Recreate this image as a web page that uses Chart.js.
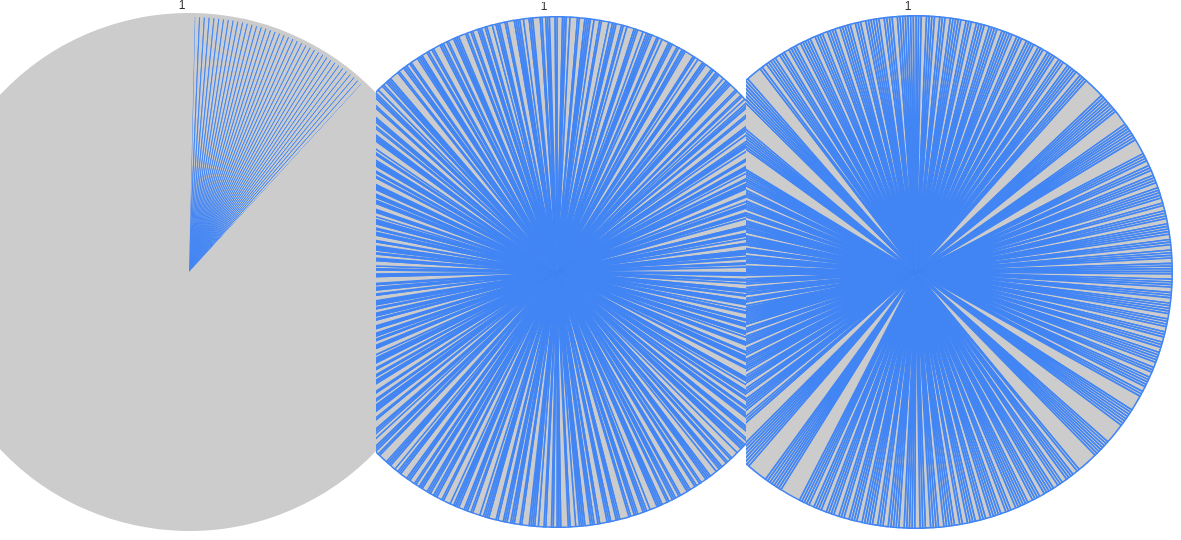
<!DOCTYPE html>
<html><head><meta charset="utf-8">
<script src="https://cdn.jsdelivr.net/npm/chart.js@4/dist/chart.umd.min.js"></script>
<style>
html,body{margin:0;padding:0;background:#fff;width:1181px;height:540px;overflow:hidden}
.panel{position:absolute;top:0;height:540px;overflow:hidden}
.panel canvas{position:absolute}
</style></head><body>
<div class="panel" style="left:0px;width:376px"><canvas id="c1"></canvas></div>
<div class="panel" style="left:376px;width:370px"><canvas id="c2"></canvas></div>
<div class="panel" style="left:746px;width:435px"><canvas id="c3"></canvas></div>
<script>
// ---- data ----
const chartTitles = ['1', '1', '1'];

const pie1Values = [
  1,1,1,1,1,1,1,1,1,1,1,1,1,1,1,1,1,1,1,1,
  1,1,1,1,1,1,1,1,1,1,1,1,1,1,1,1,1,1,
  294
];

const pie2Values = [
  3,1,1,2,4,1,3,1,1,1,2,3,1,4,2,1,1,3,1,2,
  4,1,1,3,2,1,1,1,3,1,2,4,1,1,3,1,2,1,1,5,
  1,2,3,1,1,4,1,2,1,1,3,2,1,1,1,4,1,3,1,2,
  2,1,1,3,1,4,1,1,2,3,1,1,1,2,4,1,3,1,1,2,
  3,1,2,1,1,1,4,1,3,2,1,1,3,1,1,2,5,1,1,3,
  1,1,2,3,1,4,1,1,1,2,1,3,1,2,4,1,1,3,1,2,
  4,1,1,2,1,3,1,1,1,3,2,1,4,1,2,1,1,3,1,1,
  2,3,1,1,4,1,2,1,1,1,3,1,5,1,1,2,3,1,1,2,
  1,3,1,2,1,1,4,1,1,3,1,2,1,1,1,3,4,1,2,1,
  3,1,1,2,4,1,1,1,3,1,2,1,3,1,1,4,1,2,1,1,
  2,1,3,1,1,1,4,2,1,1,3,1,1,2,1,5,1,1,3,1,
  1,4,1,2,1,1,3,1,1,1,2,3,1,4,1,1,2,1,3,1,
  3,2,1,1,1,4,1,3,1,1,2,1,1,3,1,4,1,1,1,2,
  4,1,2,1,1,3,1,1,1,2,4,1,3,1,1,2,1,1,3,1,
  1,2,1,3,1,1,4,1,1,2,3,1,1,1,5,1,2,1,1,3,
  2,1,1,4,1,3,1,1,1,2,1,3,1,4,1,1,2,1,3,1,
  3,1,1,1,2,4,1,1,3,1,2,1,1,3,1,1,4,1,2,1,
  1,3,1,2,1,1,1,4,1,3,1,1,2,1,5,1,1,3,1,2,
  4,1,1,3,1,2,1,1,1,3,1,4,1,1,2,1,3,1,1,1,
  2,3,1,1,4,1,1,2,1,1,3,1,1,1,4,1,2,1,3,1,
  1,1,3,1,2,4,1,1,1,3,1,2,1,1,4,1,3,1,1,2,
  3,1,2,1,1,1,5,1,3,1,1,2,1,4,1,1,1,3,1,2,
  1,4,1,1,2,1,3,1,1,1,4,1,2,1,3,1,1,2,1,3,
  2,1,1,3,1,4,1,1,1,2,3,1,1,4,1,2,1,1,3,1
];

const pie3Values = [
  1,1,2,1,1,1,2,1,1,2,1,1,1,1,2,1,1,2,1,1,
  1,2,1,1,1,2,1,1,1,1,2,1,1,2,1,1,1,2,1,1,
  2,1,1,1,2,1,1,2,1,1,1,1,2,1,1,1,
  8,1,1,1,1,1,1,1,1,6,1,1,1,1,1,1,1,6,
  1,1,1,2,1,1,2,1,1,1,2,1,1,1,1,2,1,2,1,1,
  1,2,1,1,1,1,2,1,1,2,1,1,1,2,1,1,1,1,2,1,
  1,1,2,1,1,2,1,1,1,1,2,1,1,1,2,1,1,2,1,1,
  2,1,1,1,1,2,1,1,2,1,1,1,1,2,1,1,
  6,1,1,1,1,1,1,1,8,1,1,1,1,1,1,1,8,
  1,2,1,1,1,2,1,1,2,1,1,1,1,2,1,1,1,2,1,1,
  1,1,1,2,1,1,2,1,1,1,1,2,1,1,2,1,1,1,2,1,
  2,1,1,1,1,2,1,1,1,2,1,1,2,1,1,1,1,2,1,1,
  1,1,2,1,1,2,1,1,1,1,2,1,1,1,2,1,1,2,1,1,
  1,2,1,1,1,2,1,1,1,1,
  8,1,1,1,1,1,1,1,8,1,1,1,1,1,1,1,6,
  1,1,2,1,1,1,1,2,1,1,2,1,1,1,2,1,1,1,1,1,
  2,1,1,1,2,1,1,1,1,2,1,1,2,1,1,1,1,1,1,1,
  1,1,1,2,1,1,2,1,1,1,1,2,1,1,1,2,1,1,1,1,
  1,2,1,1,1,1,2,1,1,2,1,1,1,1,1,2,1,1,1,1,
  1,1,2,1,1,2,1,1,1,1,2,1,1,1,2,1,1,1,1,1,
  1,1,
  8,1,1,1,1,1,1,1,8,1,1,1,1,1,1,1,6,
  1,2,1,1,1,1,2,1,1,2,1,1,1,2,1,1,1,1,2,1,
  1,1,2,1,1,1,2,1,1,1,1,2,1,1,2,1,1,1,1,1,
  2,1,1,1,2,1,1,1,1,1,1,1
];

// ---- styling ----
const SLICE_FILL = '#cccccc';
const SLICE_BORDER = '#4285f4';
const TITLE_H = 14;

const titleAt = {
  id: 'titleAt',
  afterDraw(chart, args, opts) {
    const { ctx, chartArea } = chart;
    ctx.save();
    ctx.font = '12px "Liberation Sans", Arial, sans-serif';
    ctx.fillStyle = '#333';
    ctx.textAlign = 'center';
    ctx.textBaseline = 'middle';
    ctx.fillText(opts.text, (chartArea.left + chartArea.right) / 2 + opts.dx, opts.y);
    ctx.restore();
  }
};

function makePie(id, panelLeft, cx, cy, R, values, bw, title, titleDx, rotation, greyRim) {
  const c = document.getElementById(id);
  c.width = 2 * R;
  c.height = 2 * R + TITLE_H;
  const top = cy - R - TITLE_H;
  c.style.left = (cx - R - panelLeft) + 'px';
  c.style.top = top + 'px';
  // the large remaining slice of the first pie carries no outline of its own
  const widths = greyRim ? values.map((v, i) => (i === values.length - 1 ? 0 : bw)) : bw;
  const main = {
    data: values,
    backgroundColor: SLICE_FILL,
    borderColor: SLICE_BORDER,
    borderWidth: widths,
    weight: 257
  };
  const datasets = greyRim
    ? [{ data: [1], backgroundColor: SLICE_FILL, borderColor: SLICE_FILL, borderWidth: 2, weight: 2 }, main]
    : [main];
  new Chart(c, {
    type: 'pie',
    data: { labels: values.map((v, i) => String(i + 1)), datasets },
    plugins: [titleAt],
    options: {
      responsive: false,
      animation: false,
      rotation: rotation,
      layout: { padding: { top: TITLE_H, left: 0, right: 0, bottom: 0 } },
      plugins: {
        legend: { display: false },
        tooltip: { enabled: false },
        title: { display: false },
        titleAt: { text: title, dx: titleDx, y: 6 - top }
      }
    }
  });
}

makePie('c1', 0, 189, 272, 259, pie1Values, 1, chartTitles[0], -7, 1.3, true);
makePie('c2', 376, 557, 271.5, 256, pie2Values, 1.5, chartTitles[1], -13, 0, false);
makePie('c3', 746, 916, 271.5, 257, pie3Values, 1.6, chartTitles[2], -8, 0, false);
</script>
</body></html>
